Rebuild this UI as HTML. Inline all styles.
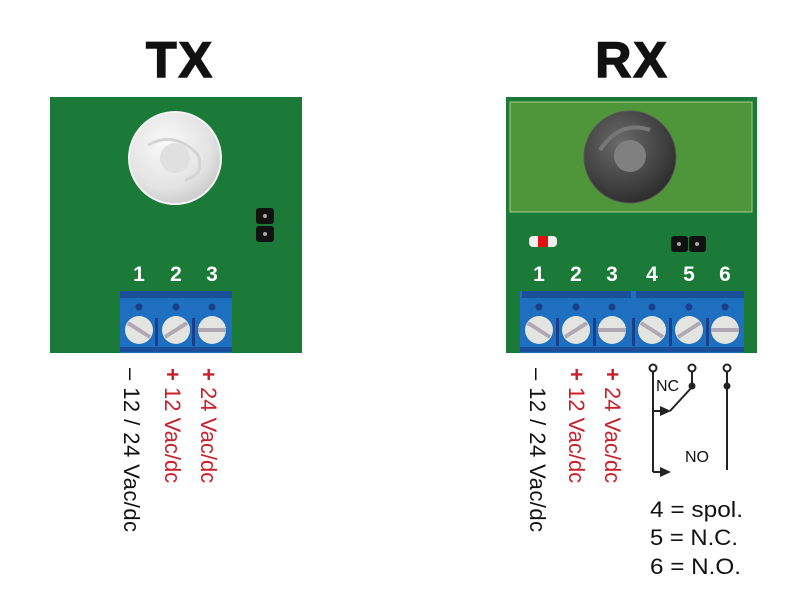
<!DOCTYPE html>
<html><head><style>body{margin:0;background:#fff}svg{display:block}</style></head><body>
<svg width="800" height="600" viewBox="0 0 800 600" xmlns="http://www.w3.org/2000/svg" font-family="Liberation Sans, Arial, sans-serif">
<defs>
<radialGradient id="wl" cx="0.4" cy="0.35" r="0.7"><stop offset="0" stop-color="#fafafa"/><stop offset="0.7" stop-color="#e2e2e2"/><stop offset="1" stop-color="#c8c8c8"/></radialGradient>
<radialGradient id="dl" cx="0.4" cy="0.35" r="0.7"><stop offset="0" stop-color="#6a6a6a"/><stop offset="0.7" stop-color="#3e3e3e"/><stop offset="1" stop-color="#2a2a2a"/></radialGradient>
</defs>
<text x="180" y="77" font-size="50" font-weight="bold" text-anchor="middle" fill="#111" stroke="#111" stroke-width="1.5" letter-spacing="2">TX</text>
<text x="632" y="77" font-size="50" font-weight="bold" text-anchor="middle" fill="#111" stroke="#111" stroke-width="1.5" letter-spacing="2">RX</text>
<!-- TX board -->
<rect x="50" y="97" width="252" height="256" fill="#1b7a37"/>
<circle cx="175" cy="158" r="46" fill="url(#wl)" stroke="#f4f4f4" stroke-width="2"/>
<path d="M148 145 Q175 130 198 155 Q205 175 185 180" fill="none" stroke="#d4d4d4" stroke-width="3"/>
<circle cx="175" cy="158" r="15" fill="#e0e0e0"/>
<rect x="256" y="208" width="18" height="16" rx="3" fill="#111"/><rect x="256" y="226" width="18" height="16" rx="3" fill="#111"/>
<circle cx="265" cy="216" r="2" fill="#aaa"/><circle cx="265" cy="234" r="2" fill="#aaa"/>
<g fill="#fff" font-size="21" font-weight="bold" text-anchor="middle">
<text x="139" y="281">1</text><text x="176" y="281">2</text><text x="212" y="281">3</text></g>
<rect x="120" y="291" width="112" height="62" fill="#1f6fc0"/>
<rect x="120" y="291" width="112" height="7" fill="#1a4f9a"/>
<rect x="120" y="347" width="112" height="5" fill="#1a4f9a"/>
<g fill="#1a3f8a"><circle cx="139" cy="307" r="3.5"/><circle cx="176" cy="307" r="3.5"/><circle cx="212" cy="307" r="3.5"/>
<rect x="155" y="318" width="3" height="28"/><rect x="192" y="318" width="3" height="28"/></g>
<g stroke="#b0a8b4" stroke-width="4">
<circle cx="139" cy="330" r="14" fill="#e4e4e0" stroke="none"/><line x1="128" y1="323" x2="150" y2="337"/>
<circle cx="176" cy="330" r="14" fill="#e4e4e0" stroke="none"/><line x1="165" y1="337" x2="187" y2="323"/>
<circle cx="212" cy="330" r="14" fill="#e4e4e0" stroke="none"/><line x1="198" y1="330" x2="226" y2="330"/></g>
<!-- RX board -->
<rect x="506" y="97" width="251" height="256" fill="#1b7a37"/>
<rect x="510" y="102" width="242" height="110" fill="#4f953a" stroke="#a8d08a" stroke-width="1"/>
<circle cx="630" cy="157" r="46" fill="url(#dl)" stroke="#555" stroke-width="1"/>
<path d="M600 150 Q620 120 650 130" fill="none" stroke="#777" stroke-width="4"/>
<circle cx="630" cy="156" r="16" fill="#808080"/>
<rect x="529" y="236" width="28" height="11" rx="4" fill="#f0f0f0"/><rect x="538" y="236" width="10" height="11" fill="#e01010"/>
<rect x="671" y="236" width="17" height="16" rx="3" fill="#111"/><rect x="689" y="236" width="17" height="16" rx="3" fill="#111"/>
<circle cx="679" cy="244" r="2" fill="#aaa"/><circle cx="697" cy="244" r="2" fill="#aaa"/>
<g fill="#fff" font-size="21" font-weight="bold" text-anchor="middle">
<text x="539" y="281">1</text><text x="576" y="281">2</text><text x="612" y="281">3</text><text x="652" y="281">4</text><text x="689" y="281">5</text><text x="725" y="281">6</text></g>
<rect x="520" y="291" width="224" height="62" fill="#1f6fc0"/>
<rect x="522" y="291" width="109" height="7" fill="#1a4f9a"/><rect x="636" y="291" width="108" height="7" fill="#1a4f9a"/>
<rect x="520" y="347" width="224" height="5" fill="#1a4f9a"/>
<g fill="#1a3f8a"><circle cx="539" cy="307" r="3.5"/><circle cx="576" cy="307" r="3.5"/><circle cx="612" cy="307" r="3.5"/><circle cx="652" cy="307" r="3.5"/><circle cx="689" cy="307" r="3.5"/><circle cx="725" cy="307" r="3.5"/>
<rect x="556" y="318" width="3" height="28"/><rect x="593" y="318" width="3" height="28"/><rect x="632" y="318" width="3" height="28"/><rect x="669" y="318" width="3" height="28"/><rect x="706" y="318" width="3" height="28"/></g>
<g stroke="#b0a8b4" stroke-width="4">
<circle cx="539" cy="330" r="14" fill="#e4e4e0" stroke="none"/><line x1="528" y1="323" x2="550" y2="337"/>
<circle cx="576" cy="330" r="14" fill="#e4e4e0" stroke="none"/><line x1="565" y1="337" x2="587" y2="323"/>
<circle cx="612" cy="330" r="14" fill="#e4e4e0" stroke="none"/><line x1="598" y1="330" x2="626" y2="330"/>
<circle cx="652" cy="330" r="14" fill="#e4e4e0" stroke="none"/><line x1="641" y1="323" x2="663" y2="337"/>
<circle cx="689" cy="330" r="14" fill="#e4e4e0" stroke="none"/><line x1="678" y1="337" x2="700" y2="323"/>
<circle cx="725" cy="330" r="14" fill="#e4e4e0" stroke="none"/><line x1="711" y1="330" x2="739" y2="330"/></g>
<!-- rotated labels -->
<g font-size="22">
<text transform="translate(124,368) rotate(90)" fill="#111" textLength="164">– 12 / 24 Vac/dc</text>
<text transform="translate(165,368) rotate(90)" fill="#c8202a"><tspan font-weight="bold">+</tspan> 12 Vac/dc</text>
<text transform="translate(201,368) rotate(90)" fill="#c8202a"><tspan font-weight="bold">+</tspan> 24 Vac/dc</text>
<text transform="translate(530,368) rotate(90)" fill="#111" textLength="164">– 12 / 24 Vac/dc</text>
<text transform="translate(569,368) rotate(90)" fill="#c8202a"><tspan font-weight="bold">+</tspan> 12 Vac/dc</text>
<text transform="translate(605,368) rotate(90)" fill="#c8202a"><tspan font-weight="bold">+</tspan> 24 Vac/dc</text>
</g>
<!-- switch -->
<g stroke="#222" stroke-width="2" fill="none">
<line x1="653" y1="372" x2="653" y2="472"/>
<line x1="653" y1="411" x2="662" y2="411"/><line x1="653" y1="472" x2="662" y2="472"/>
<line x1="670" y1="411" x2="693" y2="386"/>
<line x1="692" y1="372" x2="692" y2="386"/>
<line x1="727" y1="372" x2="727" y2="470"/>
<circle cx="653" cy="368" r="3.5" fill="#fff"/><circle cx="692" cy="368" r="3.5" fill="#fff"/><circle cx="727" cy="368" r="3.5" fill="#fff"/>
</g>
<g fill="#222"><path d="M660 406 L671 411 L660 416Z"/><path d="M660 467 L671 472 L660 477Z"/>
<circle cx="692" cy="386" r="3.5"/><circle cx="727" cy="386" r="3.5"/></g>
<text x="656" y="391" font-size="16" fill="#111">NC</text>
<text x="685" y="462" font-size="16" fill="#111">NO</text>
<g font-size="22" fill="#111"><text x="650" y="517" textLength="93" lengthAdjust="spacingAndGlyphs">4 = spol.</text><text x="650" y="545" textLength="88" lengthAdjust="spacingAndGlyphs">5 = N.C.</text><text x="650" y="574" textLength="91" lengthAdjust="spacingAndGlyphs">6 = N.O.</text></g>
</svg>
</body></html>
